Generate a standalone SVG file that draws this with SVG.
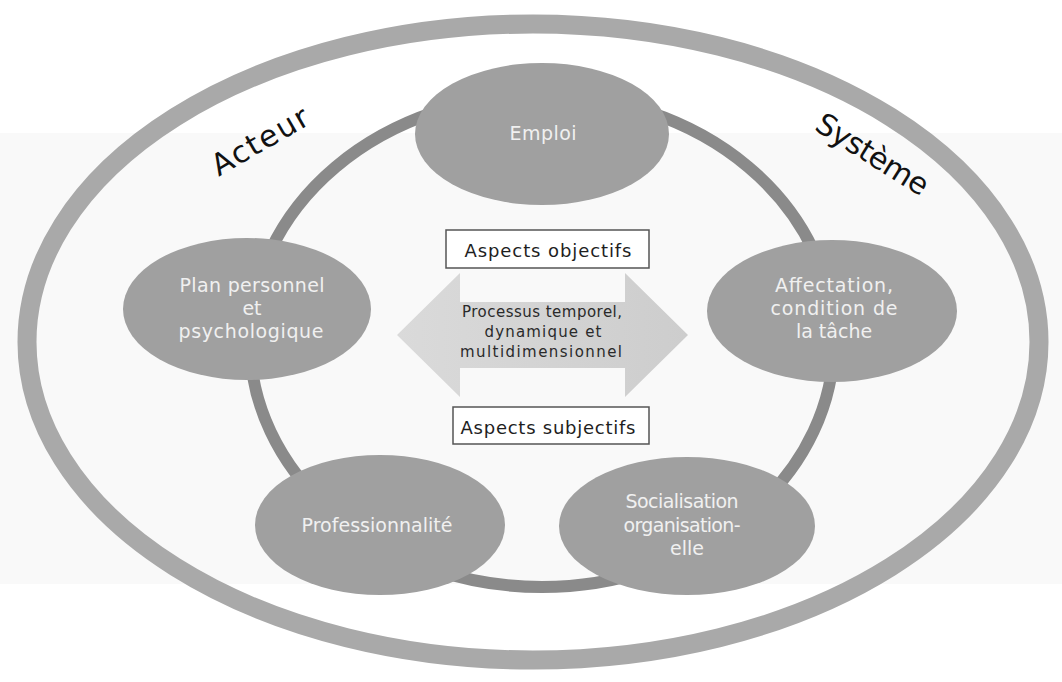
<svg xmlns="http://www.w3.org/2000/svg" width="1062" height="682" viewBox="0 0 1062 682">
  <style>
    .node { fill: #a0a0a0; }
    .ntext { font-family: "DejaVu Sans", "Liberation Sans", sans-serif; font-size: 19px; fill: #f0f0f0; text-anchor: middle; }
    .ctext { font-family: "DejaVu Sans", "Liberation Sans", sans-serif; font-size: 18px; fill: #1e1e1e; text-anchor: middle; }
    .atext { font-family: "DejaVu Sans", "Liberation Sans", sans-serif; font-size: 15px; fill: #2a2a2a; text-anchor: middle; }
    .big { font-family: "DejaVu Sans", "Liberation Sans", sans-serif; font-size: 30px; fill: #111; text-anchor: middle; }
    .box { fill: #ffffff; stroke: #555; stroke-width: 1.5; }
  </style>
  <defs>
    <linearGradient id="arrowGrad" x1="0" y1="0" x2="1" y2="0">
      <stop offset="0" stop-color="#dadada"/>
      <stop offset="1" stop-color="#cdcdcd"/>
    </linearGradient>
    <radialGradient id="nodeGrad" cx="0.5" cy="0.5" r="0.6">
      <stop offset="0" stop-color="#a4a4a4"/>
      <stop offset="1" stop-color="#9a9a9a"/>
    </radialGradient>
  </defs>
  <rect x="0" y="0" width="1062" height="682" fill="#ffffff"/>
  <rect x="0" y="133" width="1062" height="451" fill="#f9f9f9"/>

  <g id="connectors">
    <ellipse cx="533" cy="342" rx="506" ry="318" fill="none" stroke="#a9a9a9" stroke-width="19"/>
    <ellipse cx="542" cy="341" rx="292" ry="246" fill="none" stroke="#8a8a8a" stroke-width="12"/>
  </g>

  <g id="node-emploi">
    <ellipse class="node" cx="542" cy="134" rx="127" ry="71" fill="url(#nodeGrad)"/>
    <text class="ntext" x="543" y="140" font-size="17" textLength="67">Emploi</text>
  </g>

  <g id="node-plan">
    <ellipse class="node" cx="247" cy="309" rx="124" ry="71" fill="url(#nodeGrad)"/>
    <text class="ntext" x="252" y="292" textLength="145">Plan personnel</text>
    <text class="ntext" x="252" y="315">et</text>
    <text class="ntext" x="251" y="338" textLength="145">psychologique</text>
  </g>

  <g id="node-affectation">
    <ellipse class="node" cx="832" cy="311" rx="125" ry="71" fill="url(#nodeGrad)"/>
    <text class="ntext" x="834" y="292" textLength="118">Affectation,</text>
    <text class="ntext" x="834" y="315" textLength="127">condition de</text>
    <text class="ntext" x="834" y="338">la tâche</text>
  </g>

  <g id="node-professionnalite">
    <ellipse class="node" cx="380" cy="525" rx="125" ry="70" fill="url(#nodeGrad)"/>
    <text class="ntext" x="377" y="532" textLength="151">Professionnalité</text>
  </g>

  <g id="node-socialisation">
    <ellipse class="node" cx="687" cy="526" rx="128" ry="69" fill="url(#nodeGrad)"/>
    <text class="ntext" x="682" y="508" textLength="113">Socialisation</text>
    <text class="ntext" x="682" y="532" textLength="117">organisation-</text>
    <text class="ntext" x="687" y="555">elle</text>
  </g>

  <g id="node-process">
    <polygon points="397,335 460,273 460,302 625,302 625,273 688,335 625,397 625,368 460,368 460,397" fill="url(#arrowGrad)"/>
    <text class="atext" x="542" y="317" textLength="160">Processus temporel,</text>
    <text class="atext" x="543" y="337" textLength="117">dynamique et</text>
    <text class="atext" x="541" y="357" textLength="162">multidimensionnel</text>
  </g>

  <g id="node-objectifs">
    <rect class="box" x="446" y="230" width="203" height="38"/>
    <text class="ctext" x="548" y="257" textLength="167">Aspects objectifs</text>
  </g>

  <g id="node-subjectifs">
    <rect class="box" x="453" y="407" width="196" height="37"/>
    <text class="ctext" x="548" y="434" textLength="175">Aspects subjectifs</text>
  </g>

  <g id="label-acteur">
    <text class="big" x="265" y="150" transform="rotate(-30 265 150)" textLength="107">Acteur</text>
  </g>

  <g id="label-systeme">
    <text class="big" x="867" y="163" transform="rotate(32 867 163)" textLength="127">Système</text>
  </g>
</svg>
